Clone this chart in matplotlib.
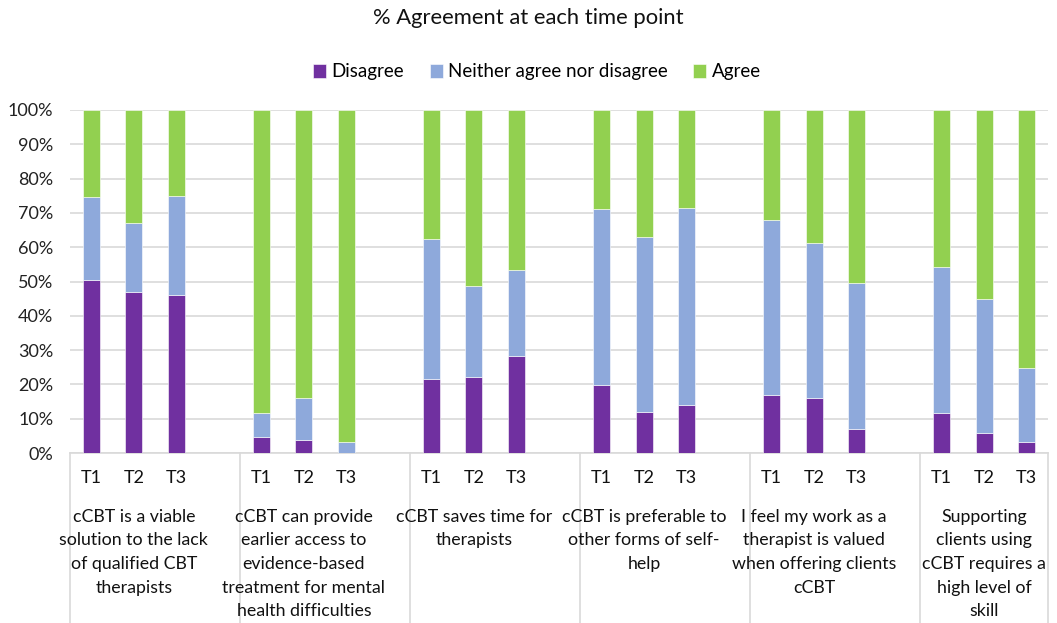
import matplotlib.pyplot as plt
from matplotlib.transforms import blended_transform_factory

plt.rcParams["font.family"] = ["Lato", "DejaVu Sans"]

statements = [
    "cCBT is a viable\nsolution to the lack\nof qualified CBT\ntherapists",
    "cCBT can provide\nearlier access to\nevidence-based\ntreatment for mental\nhealth difficulties",
    "cCBT saves time for\ntherapists",
    "cCBT is preferable to\nother forms of self-\nhelp",
    "I feel my work as a\ntherapist is valued\nwhen offering clients\ncCBT",
    "Supporting\nclients using\ncCBT requires a\nhigh level of\nskill",
]
time_points = ["T1", "T2", "T3"]

# percentages per statement, T1..T3
disagree = [
    [50.5, 46.8, 46.2],
    [4.8, 3.7, 0.0],
    [21.7, 22.2, 28.3],
    [19.9, 11.9, 14.0],
    [16.8, 16.0, 6.9],
    [11.6, 5.7, 3.3],
]
neither = [
    [24.0, 20.3, 28.6],
    [6.8, 12.3, 3.2],
    [40.8, 26.6, 25.1],
    [51.2, 51.2, 57.3],
    [51.0, 45.2, 42.8],
    [42.6, 39.1, 21.5],
]
agree = [
    [25.5, 32.9, 25.2],
    [88.4, 84.0, 96.8],
    [37.5, 51.2, 46.6],
    [28.9, 36.9, 28.7],
    [32.2, 38.8, 50.3],
    [45.8, 55.2, 75.2],
]

series = [
    ("Disagree", disagree, "#7030A0"),
    ("Neither agree nor disagree", neither, "#8EA9DB"),
    ("Agree", agree, "#92D050"),
]

fig = plt.figure(figsize=(10.57, 6.23), dpi=100)
ax = fig.add_axes([70 / 1057, 1 - 453 / 623, (1048 - 70) / 1057, (453 - 110) / 623])

# each statement takes 4 slots: T1, T2, T3 and a gap
xs = [g * 4 + t for g in range(len(statements)) for t in range(3)]
bottom = [0.0] * len(xs)
for name, data, color in series:
    vals = [v for row in data for v in row]
    ax.bar(xs, vals, width=0.4, bottom=bottom, color=color, label=name,
           edgecolor="white", linewidth=0.4, zorder=3)
    bottom = [b + v for b, v in zip(bottom, vals)]

ax.set_xlim(-0.5, 22.5)
ax.set_ylim(0, 100)
ax.set_yticks(range(0, 101, 10))
ax.set_yticklabels([f"{v}%" for v in range(0, 101, 10)], fontsize=13, color="#222222")
ax.yaxis.grid(True, color="#D9D9D9", linewidth=1.2, zorder=0)
ax.tick_params(axis="y", length=0, pad=12)
ax.set_xticks([])
for side in ["left", "right", "top"]:
    ax.spines[side].set_visible(False)
ax.spines["bottom"].set_color("#D9D9D9")
ax.spines["bottom"].set_linewidth(1.2)

# two-level category axis below the bars
trans = blended_transform_factory(ax.transData, ax.transAxes)
for x, (g, t) in zip(xs, [(g, t) for g in range(len(statements)) for t in range(3)]):
    ax.text(x, -0.073, time_points[t], transform=trans, ha="center", va="center",
            fontsize=13, color="#111111")
for g, label in enumerate(statements):
    ax.text(g * 4 + 1, -0.163, label, transform=trans, ha="center", va="top",
            fontsize=12.8, color="#111111", linespacing=1.58)
for b in [g * 4 - 0.5 for g in range(len(statements))] + [22.5]:
    ax.plot([b, b], [0, -0.6], transform=trans, color="#D9D9D9", linewidth=1.2,
            clip_on=False)

fig.text(0.5, 1 - 18 / 623, "% Agreement at each time point", ha="center", va="center",
         fontsize=15.8, color="#111111")
fig.legend(loc="center", bbox_to_anchor=(537 / 1057, 1 - 72 / 623), ncol=3,
           frameon=False, fontsize=13.5, handlelength=0.7, handleheight=0.7,
           handletextpad=0.3, columnspacing=1.35)

fig.savefig("out.png", dpi=100)
